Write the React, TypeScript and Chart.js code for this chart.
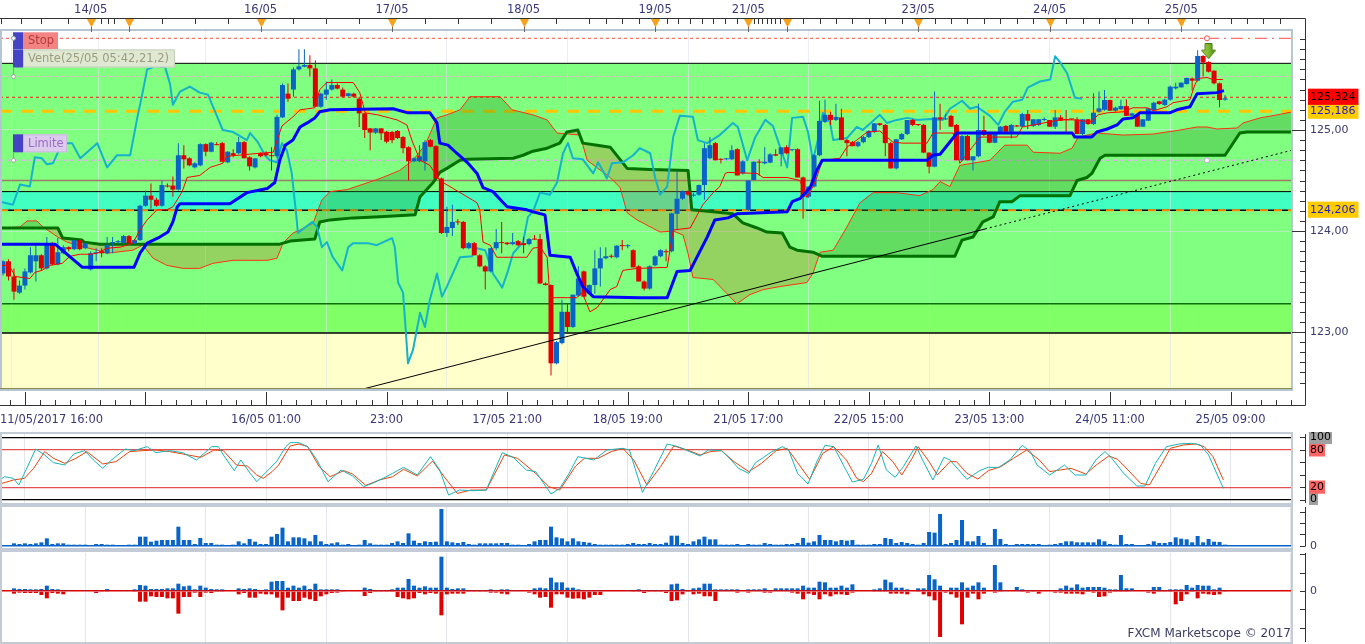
import React, { useEffect, useRef } from "react";
import { Chart, registerables } from "chart.js";

Chart.register(...registerables);

// ================= DATA =================
// x axis = hourly candle index, y axis = USD/JPY price
const X_MIN = -0.55;
const X_MAX = 235.22;
const PRICE_MIN = 122.426;
const PRICE_MAX = 125.99;

// [open, high, low, close]
const CANDLES_OHLC: number[][] = [
  [123.58, 123.71, 123.56, 123.70], [123.70, 123.72, 123.51, 123.55], [123.55, 123.63, 123.32, 123.40], [123.39, 123.51, 123.38, 123.46],
  [123.46, 123.63, 123.42, 123.60], [123.59, 123.84, 123.58, 123.76], [123.70, 123.86, 123.50, 123.76], [123.76, 123.77, 123.61, 123.63],
  [123.63, 123.94, 123.62, 123.86], [123.86, 123.89, 123.66, 123.67], [123.67, 123.93, 123.66, 123.79], [123.78, 123.86, 123.77, 123.84],
  [123.84, 123.85, 123.80, 123.82], [123.82, 123.91, 123.81, 123.91], [123.91, 123.92, 123.81, 123.82], [123.83, 123.88, 123.82, 123.88],
  [123.62, 123.80, 123.61, 123.78], [123.78, 123.83, 123.70, 123.79], [123.80, 123.83, 123.74, 123.78], [123.78, 123.94, 123.77, 123.86],
  [123.88, 123.94, 123.78, 123.89], [123.89, 123.91, 123.87, 123.895], [123.88, 123.96, 123.87, 123.95], [123.95, 123.96, 123.88, 123.88],
  [123.88, 123.92, 123.87, 123.91], [123.91, 124.26, 123.90, 124.25], [124.25, 124.40, 124.24, 124.35], [124.35, 124.47, 124.22, 124.31],
  [124.31, 124.33, 124.24, 124.25], [124.25, 124.50, 124.24, 124.455], [124.45, 124.47, 124.43, 124.44], [124.45, 124.54, 124.34, 124.41],
  [124.41, 124.87, 124.40, 124.75], [124.75, 124.85, 124.62, 124.71], [124.72, 124.73, 124.64, 124.65], [124.63, 124.68, 124.62, 124.67],
  [124.65, 124.87, 124.64, 124.86], [124.86, 124.87, 124.74, 124.785], [124.785, 124.88, 124.78, 124.875], [124.86, 124.88, 124.85, 124.85],
  [124.87, 124.88, 124.68, 124.686], [124.68, 124.79, 124.67, 124.785], [124.77, 124.81, 124.73, 124.75], [124.77, 124.93, 124.76, 124.88],
  [124.88, 124.89, 124.72, 124.72], [124.73, 124.74, 124.60, 124.64], [124.63, 124.72, 124.62, 124.72], [124.77, 124.78, 124.73, 124.74],
  [124.77, 124.79, 124.74, 124.75], [124.75, 124.83, 124.60, 124.74], [124.74, 125.15, 124.72, 125.13], [125.125, 125.46, 125.12, 125.445],
  [125.36, 125.46, 125.28, 125.31], [125.40, 125.62, 125.33, 125.60], [125.60, 125.80, 125.59, 125.63], [125.627, 125.80, 125.62, 125.643],
  [125.643, 125.74, 125.53, 125.61], [125.61, 125.69, 125.23, 125.23], [125.23, 125.37, 125.22, 125.36], [125.35, 125.48, 125.30, 125.40],
  [125.40, 125.50, 125.39, 125.445], [125.445, 125.46, 125.40, 125.41], [125.40, 125.42, 125.32, 125.33], [125.337, 125.37, 125.33, 125.363],
  [125.36, 125.37, 125.32, 125.33], [125.31, 125.33, 125.03, 125.165], [125.165, 125.17, 124.92, 125.00], [125.016, 125.02, 124.80, 124.974],
  [124.974, 125.02, 124.96, 125.016], [125.016, 125.02, 124.90, 124.967], [124.983, 124.99, 124.87, 124.884], [124.98, 124.99, 124.87, 124.90],
  [124.99, 125.00, 124.91, 124.92], [124.93, 124.94, 124.77, 124.82], [124.83, 124.84, 124.50, 124.69], [124.69, 124.73, 124.68, 124.72],
  [124.69, 124.85, 124.68, 124.74], [124.69, 124.90, 124.60, 124.88], [124.90, 124.91, 124.83, 124.835], [124.84, 124.85, 124.52, 124.52],
  [124.52, 124.53, 123.97, 123.98], [123.98, 124.24, 123.94, 124.04], [124.03, 124.26, 123.95, 124.09], [124.09, 124.12, 124.06, 124.085],
  [124.09, 124.10, 123.82, 123.83], [123.83, 123.89, 123.82, 123.88], [123.88, 123.89, 123.76, 123.76], [123.76, 123.77, 123.64, 123.65],
  [123.65, 123.66, 123.42, 123.60], [123.60, 123.83, 123.59, 123.83], [123.83, 124.02, 123.81, 123.89], [123.89, 124.09, 123.78, 123.88],
  [123.885, 123.89, 123.86, 123.87], [123.87, 123.98, 123.86, 123.89], [123.90, 123.91, 123.85, 123.86], [123.88, 123.94, 123.78, 123.86],
  [123.87, 123.93, 123.86, 123.92], [123.925, 123.96, 123.91, 123.915], [123.92, 123.97, 123.48, 123.48], [123.48, 123.49, 123.46, 123.465],
  [123.465, 123.47, 122.57, 122.69], [122.69, 122.91, 122.68, 122.90], [122.89, 123.32, 122.88, 123.20], [123.20, 123.28, 122.99, 123.05],
  [123.05, 123.37, 123.04, 123.37], [123.36, 123.65, 123.35, 123.53], [123.60, 123.61, 123.35, 123.35], [123.38, 123.47, 123.37, 123.465],
  [123.465, 123.81, 123.38, 123.63], [123.63, 123.84, 123.45, 123.73], [123.73, 123.84, 123.72, 123.75], [123.75, 123.77, 123.73, 123.745],
  [123.74, 123.86, 123.73, 123.855], [123.86, 123.91, 123.81, 123.85], [123.85, 123.87, 123.83, 123.85], [123.81, 123.82, 123.64, 123.64],
  [123.65, 123.66, 123.50, 123.50], [123.50, 123.51, 123.41, 123.43], [123.43, 123.66, 123.42, 123.65], [123.66, 123.76, 123.65, 123.75],
  [123.75, 123.82, 123.74, 123.81], [123.80, 123.82, 123.70, 123.79], [123.80, 124.18, 123.79, 124.175], [124.17, 124.60, 124.01, 124.32],
  [124.32, 124.40, 124.31, 124.39], [124.39, 124.40, 124.35, 124.36], [124.35, 124.38, 124.34, 124.36], [124.36, 124.46, 124.35, 124.455],
  [124.455, 124.87, 124.31, 124.82], [124.72, 124.93, 124.71, 124.85], [124.87, 124.88, 124.70, 124.70], [124.71, 124.72, 124.67, 124.705],
  [124.71, 124.72, 124.70, 124.71], [124.71, 124.85, 124.70, 124.80], [124.81, 124.82, 124.55, 124.55], [124.57, 124.70, 124.56, 124.69],
  [124.21, 124.50, 124.20, 124.50], [124.505, 124.69, 124.50, 124.686], [124.68, 124.71, 124.55, 124.677], [124.67, 124.83, 124.66, 124.686],
  [124.677, 124.77, 124.67, 124.759], [124.76, 124.81, 124.74, 124.746], [124.76, 124.83, 124.64, 124.828], [124.83, 124.85, 124.76, 124.77],
  [124.80, 124.81, 124.79, 124.81], [124.81, 124.82, 124.53, 124.53], [124.53, 124.54, 124.125, 124.34], [124.34, 124.44, 124.33, 124.44],
  [124.44, 124.76, 124.43, 124.75], [124.75, 125.29, 124.74, 125.09], [125.08, 125.30, 125.07, 125.15], [125.15, 125.18, 125.05, 125.10],
  [125.10, 125.26, 125.09, 125.13], [125.125, 125.21, 124.90, 124.90], [124.90, 124.91, 124.74, 124.87], [124.88, 124.89, 124.84, 124.84],
  [124.84, 124.89, 124.83, 124.88], [124.88, 124.94, 124.87, 124.93], [124.93, 125.00, 124.92, 124.99], [124.98, 125.07, 124.97, 125.066],
  [125.066, 125.07, 125.04, 125.05], [125.05, 125.06, 124.74, 124.87], [124.87, 124.88, 124.62, 124.62], [124.62, 124.91, 124.61, 124.908],
  [124.908, 124.97, 124.90, 124.96], [124.96, 125.10, 124.95, 125.099], [125.099, 125.11, 125.04, 125.05], [125.05, 125.06, 125.04, 125.049],
  [125.05, 125.06, 124.77, 124.776], [124.776, 124.78, 124.57, 124.637], [124.637, 125.38, 124.63, 125.125], [125.125, 125.26, 125.00, 125.105],
  [125.105, 125.16, 125.10, 125.106], [125.14, 125.15, 125.03, 125.033], [125.05, 125.06, 124.70, 124.70], [124.70, 124.95, 124.69, 124.94],
  [124.94, 124.95, 124.70, 124.70], [124.70, 124.74, 124.60, 124.74], [124.74, 125.26, 124.73, 125.00], [125.00, 125.14, 124.94, 124.95],
  [124.967, 124.97, 124.87, 124.874], [124.874, 124.97, 124.87, 124.967], [124.967, 125.04, 124.96, 125.033], [125.04, 125.05, 124.98, 124.983],
  [124.983, 125.06, 124.917, 125.05], [125.04, 125.05, 125.03, 125.035], [125.033, 125.17, 125.03, 125.158], [125.158, 125.198, 125.01, 125.092],
  [125.04, 125.11, 125.03, 125.106], [125.05, 125.11, 125.04, 125.106], [125.099, 125.125, 125.09, 125.10], [125.099, 125.10, 125.03, 125.033],
  [125.033, 125.198, 125.01, 125.125], [125.125, 125.148, 125.09, 125.092], [125.10, 125.198, 124.98, 125.099], [125.106, 125.11, 125.10, 125.105],
  [125.106, 125.125, 124.96, 124.96], [124.96, 125.11, 124.95, 125.106], [125.106, 125.11, 125.05, 125.059], [125.059, 125.363, 125.05, 125.171],
  [125.181, 125.38, 125.17, 125.214], [125.20, 125.396, 125.19, 125.297], [125.297, 125.30, 125.19, 125.191], [125.191, 125.23, 125.18, 125.221],
  [125.205, 125.30, 125.20, 125.237], [125.237, 125.303, 125.14, 125.14], [125.14, 125.17, 125.13, 125.165], [125.148, 125.15, 125.03, 125.033],
  [125.033, 125.11, 125.03, 125.106], [125.092, 125.22, 125.09, 125.214], [125.198, 125.28, 125.19, 125.27], [125.284, 125.29, 125.25, 125.257],
  [125.247, 125.31, 125.24, 125.30], [125.30, 125.44, 125.29, 125.429], [125.412, 125.469, 125.40, 125.429], [125.422, 125.47, 125.42, 125.469],
  [125.455, 125.52, 125.45, 125.515], [125.51, 125.52, 125.39, 125.488], [125.488, 125.79, 125.48, 125.733], [125.733, 125.74, 125.53, 125.667],
  [125.673, 125.68, 125.57, 125.577], [125.587, 125.59, 125.45, 125.462], [125.462, 125.47, 125.224, 125.297], [125.30, 125.346, 125.29, 125.313],
];

// Ichimoku lines: [candle index, price]
const TENKAN = [
  [-0.5, 123.66], [1.2, 123.66], [2.2, 123.55], [4.9, 123.53], [5.8, 123.59], [7.1, 123.61], [8.6, 123.66], [10.8, 123.68], [12.2, 123.75],
  [14.1, 123.77], [15.9, 123.77], [17.2, 123.78], [19.0, 123.83], [21.4, 123.84], [23.7, 123.88], [25.0, 124.01], [26.3, 124.11], [28.1, 124.21],
  [29.9, 124.21], [31.0, 124.24], [32.7, 124.39], [33.6, 124.53], [35.9, 124.55], [37.8, 124.63], [40.1, 124.67], [40.9, 124.74], [46.9, 124.77],
  [49.3, 124.78], [50.9, 125.04], [52.9, 125.13], [54.2, 125.20], [56.9, 125.22], [57.8, 125.40], [59.1, 125.47], [63.9, 125.47], [65.1, 125.37],
  [66.1, 125.17], [68.4, 125.15], [71.9, 125.10], [73.7, 125.05], [74.6, 124.90], [76.1, 124.70], [77.9, 124.65], [79.7, 124.50], [83.4, 124.38],
  [86.5, 124.28], [87.0, 124.21], [87.6, 123.89], [88.9, 123.86], [90.1, 123.74], [95.6, 123.74], [96.7, 123.83], [98.0, 123.84], [99.3, 123.74],
  [99.8, 123.34], [104.7, 123.34], [105.7, 123.39], [107.1, 123.20], [108.4, 123.24], [110.8, 123.42], [112.0, 123.45], [113.1, 123.61],
  [115.7, 123.63], [121.2, 123.64], [122.3, 124.01], [125.4, 124.03], [127.7, 124.26], [129.6, 124.38], [130.8, 124.44], [131.8, 124.57],
  [132.3, 124.58], [137.6, 124.57], [138.7, 124.53], [143.1, 124.53], [145.4, 124.50], [146.7, 124.33], [147.8, 124.44], [148.5, 124.53],
  [149.5, 124.70], [152.7, 124.72], [154.0, 124.83], [155.8, 124.90], [157.7, 124.98], [160.0, 124.99], [162.4, 124.88], [164.2, 124.87],
  [168.6, 124.87], [169.7, 124.97], [173.4, 124.97], [174.6, 124.67], [178.3, 124.93], [185.0, 124.93], [186.0, 125.03], [192.9, 125.10],
  [195.3, 125.10], [198.7, 125.08], [199.8, 125.15], [201.5, 125.17], [204.4, 125.18], [206.2, 125.22], [208.8, 125.22], [209.9, 125.19],
  [212.4, 125.23], [213.5, 125.27], [216.6, 125.30], [217.5, 125.45], [218.1, 125.51], [219.7, 125.52], [220.8, 125.50], [222.6, 125.50],
];
const KIJUN = [
  [-0.5, 123.87], [9.5, 123.87], [14.5, 123.64], [23.9, 123.64], [25.0, 123.78], [26.3, 123.88], [28.6, 123.94], [30.1, 123.99], [31.0, 124.09],
  [31.8, 124.24], [32.3, 124.27], [41.4, 124.27], [44.5, 124.38], [48.2, 124.42], [49.6, 124.48], [50.5, 124.70], [51.5, 124.85], [52.9, 124.90],
  [54.2, 125.03], [55.5, 125.07], [56.9, 125.12], [57.8, 125.18], [59.7, 125.20], [71.2, 125.21], [73.9, 125.17], [77.9, 125.17], [79.2, 125.07],
  [79.7, 124.87], [81.2, 124.85], [82.8, 124.77], [84.7, 124.68], [86.5, 124.57], [87.6, 124.43], [89.4, 124.39], [91.1, 124.29], [92.0, 124.24],
  [95.6, 124.21], [96.7, 124.19], [98.9, 124.16], [99.8, 123.76], [103.5, 123.74], [104.7, 123.58], [105.8, 123.45], [107.7, 123.35],
  [116.2, 123.34], [121.2, 123.34], [123.0, 123.60], [125.4, 123.61], [128.5, 123.94], [129.9, 124.11], [132.3, 124.13], [133.9, 124.17],
  [143.1, 124.19], [144.0, 124.29], [145.4, 124.32], [147.3, 124.43], [148.5, 124.60], [149.5, 124.70], [168.6, 124.70], [169.7, 124.75],
  [171.0, 124.76], [174.1, 124.97], [195.1, 124.97], [195.6, 124.93], [198.7, 124.93], [199.6, 124.98], [201.5, 125.01], [203.3, 125.05],
  [204.4, 125.11], [206.2, 125.12], [207.5, 125.17], [212.9, 125.17], [214.2, 125.20], [216.6, 125.23], [217.9, 125.36], [221.5, 125.37],
  [222.8, 125.39],
];
const SENKOU_A = [
  [-0.5, 124.03], [3.1, 124.04], [4.4, 124.10], [6.2, 124.10], [7.3, 124.04], [10.0, 123.94], [11.7, 123.89], [14.1, 123.85], [17.2, 123.81],
  [19.0, 123.78], [23.7, 123.81], [25.5, 123.86], [27.4, 123.73], [29.9, 123.66], [32.8, 123.63], [35.9, 123.63], [38.3, 123.68], [42.0, 123.71],
  [48.2, 123.71], [50.0, 123.73], [51.1, 123.88], [52.9, 123.98], [54.2, 124.01], [56.6, 124.08], [58.2, 124.31], [59.7, 124.39], [62.8, 124.41],
  [68.8, 124.52], [72.4, 124.60], [74.8, 124.70], [77.0, 124.85], [79.2, 125.12], [81.0, 125.15], [83.4, 125.20], [85.2, 125.33], [90.7, 125.33],
  [92.9, 125.20], [96.7, 125.15], [99.3, 125.10], [101.1, 124.97], [105.3, 124.95], [106.6, 124.70], [110.8, 124.53], [112.6, 124.43],
  [113.9, 124.18], [115.7, 124.11], [119.9, 123.99], [122.3, 124.00], [124.1, 123.96], [125.0, 123.78], [125.9, 123.54], [129.6, 123.52],
  [131.4, 123.42], [133.9, 123.28], [136.3, 123.37], [138.7, 123.42], [141.8, 123.45], [146.7, 123.49], [147.8, 123.58], [149.1, 123.79],
  [151.5, 123.81], [154.0, 124.04], [156.4, 124.28], [158.8, 124.38], [163.1, 124.38], [167.3, 124.35], [169.7, 124.41], [171.0, 124.49],
  [172.8, 124.44], [174.6, 124.65], [180.1, 124.70], [182.8, 124.85], [186.9, 124.85], [188.0, 124.78], [192.9, 124.77], [195.1, 124.82],
  [196.2, 124.93], [199.6, 124.97], [204.4, 124.95], [209.9, 124.96], [214.8, 125.00], [217.9, 125.03], [219.7, 125.03], [221.5, 125.01],
  [225.2, 125.02], [226.3, 125.07], [229.4, 125.12], [232.5, 125.15], [235.3, 125.18],
];
const SENKOU_B = [
  [-0.5, 124.03], [10.0, 124.03], [10.9, 123.93], [14.4, 123.91], [14.8, 123.89], [17.7, 123.87], [50.5, 123.87], [52.4, 123.90], [56.9, 123.92],
  [57.8, 124.09], [59.7, 124.11], [63.9, 124.13], [68.8, 124.14], [75.2, 124.16], [76.1, 124.34], [78.5, 124.48], [79.7, 124.58], [81.0, 124.62],
  [83.4, 124.70], [84.7, 124.71], [93.1, 124.72], [94.9, 124.75], [96.7, 124.79], [99.3, 124.82], [101.6, 124.87], [102.9, 124.98], [104.9, 125.00],
  [105.8, 124.87], [108.4, 124.85], [110.8, 124.83], [113.9, 124.62], [118.1, 124.61], [125.0, 124.60], [125.7, 124.21], [129.6, 124.19],
  [133.2, 124.17], [135.0, 124.08], [137.6, 124.03], [139.4, 123.99], [142.2, 123.98], [143.6, 123.84], [144.9, 123.81], [147.8, 123.79],
  [149.5, 123.75], [173.7, 123.75], [175.0, 123.91], [177.0, 123.94], [178.8, 124.09], [180.7, 124.14], [181.9, 124.29], [184.1, 124.29],
  [185.6, 124.35], [194.7, 124.35], [196.0, 124.50], [197.8, 124.53], [198.7, 124.57], [200.2, 124.72], [201.1, 124.75], [223.0, 124.75],
  [225.7, 124.97], [227.0, 124.98], [235.3, 124.98],
];
const CHIKOU = [
  [-0.5, 124.29], [1.8, 124.26], [3.1, 124.46], [4.9, 124.44], [5.8, 124.73], [7.1, 124.72], [8.0, 124.66], [9.1, 124.67], [10.8, 124.87],
  [12.6, 124.87], [14.1, 124.72], [17.2, 124.87], [19.0, 124.63], [20.8, 124.75], [23.2, 124.75], [24.5, 125.12], [25.4, 125.35], [26.3, 125.60],
  [27.7, 125.63], [29.6, 125.62], [30.5, 125.45], [31.0, 125.25], [32.3, 125.38], [34.1, 125.43], [35.9, 125.37], [37.4, 125.35], [39.1, 125.13],
  [40.1, 125.00], [42.0, 124.98], [44.5, 124.90], [45.1, 124.97], [46.5, 124.88], [47.8, 124.75], [48.7, 124.70], [50.0, 124.68], [50.9, 124.87],
  [51.8, 124.80], [52.7, 124.57], [53.6, 124.11], [53.8, 123.98], [56.4, 124.09], [57.3, 124.04], [58.2, 123.84], [59.1, 123.89], [60.2, 123.74],
  [61.9, 123.61], [63.0, 123.84], [63.9, 123.88], [66.6, 123.88], [68.2, 123.86], [71.0, 123.93], [71.5, 123.84], [72.1, 123.49], [73.0, 123.39],
  [73.4, 123.09], [73.9, 122.69], [74.8, 122.82], [76.1, 123.19], [77.0, 123.05], [77.9, 123.32], [79.2, 123.58], [80.1, 123.35], [81.0, 123.45],
  [83.4, 123.74], [85.6, 123.75], [86.5, 123.83], [88.0, 123.81], [89.4, 123.58], [91.1, 123.44], [92.0, 123.58], [93.1, 123.78], [94.9, 123.89],
  [95.8, 124.14], [96.7, 124.19], [98.0, 124.38], [99.8, 124.36], [101.1, 124.48], [102.2, 124.77], [103.1, 124.87], [104.0, 124.72],
  [105.8, 124.71], [107.7, 124.57], [108.6, 124.68], [110.2, 124.52], [111.1, 124.67], [113.1, 124.68], [115.0, 124.75], [116.2, 124.82],
  [118.1, 124.77], [119.0, 124.53], [119.9, 124.36], [121.2, 124.44], [122.3, 124.93], [123.5, 125.14], [125.9, 125.13], [126.8, 124.90],
  [128.5, 124.87], [130.8, 124.95], [133.2, 125.07], [134.1, 125.03], [135.8, 124.70], [137.2, 124.92], [139.1, 125.10], [140.5, 125.04],
  [141.8, 124.83], [143.1, 124.63], [144.0, 125.12], [146.0, 125.13], [146.9, 124.98], [147.8, 124.70], [148.7, 124.90], [149.6, 125.17],
  [150.9, 125.08], [151.5, 124.90], [154.0, 124.92], [155.8, 125.03], [156.9, 125.00], [160.0, 125.15], [161.3, 125.07], [163.1, 125.10],
  [165.0, 125.12], [166.8, 125.10], [169.2, 125.11], [171.5, 125.10], [172.8, 125.21], [175.0, 125.29], [176.5, 125.21], [177.7, 125.23],
  [180.1, 125.14], [181.6, 125.05], [182.8, 125.18], [184.3, 125.28], [186.0, 125.30], [187.0, 125.42], [189.2, 125.48], [191.1, 125.50],
  [192.0, 125.73], [192.9, 125.67], [194.2, 125.56], [195.6, 125.32], [196.9, 125.31],
];
const TREND_SOLID = [[65.3, 122.43], [179.2, 124.02]];
const TREND_DOTTED = [[179.2, 124.02], [235.2, 124.8]];

// horizontal zones and order levels (prices)
const ZONE_EDGES = [125.66, 124.39, 124.206, 123.28, 122.99];
const STOP_PRICE = 125.908;
const VENTE_PRICE = 125.53;
const RED_LEVEL = 125.324;
const ORANGE_LEVEL = 125.186;
const LIMIT_PRICE = 124.7;
const BROWN_LEVEL = 124.5;
const ORDER_IDX = 219.7;
const SELL_SIGNAL = [[220, 125.78]];
const PRICE_TAGS = [125.324, 125.186, 124.206];
const PRICE_LABELS = [123, 124, 125];

// Stochastic %K / %D: [candle index, value]
const STOCH_K = [
  [-0.55, 31.5], [0.26, 36.8], [1.9, 34.1], [2.9, 23.4], [3.9, 42.2], [5.96, 81.5], [7.6, 71.8], [9.2, 59.4], [11.3, 55.6], [12.9, 73.4],
  [14.9, 78.8], [16.5, 63.7], [18.2, 50.3], [19.8, 63.7], [22.3, 81.5], [23.9, 78.8], [26.3, 85.2], [27.9, 75.5], [30.4, 78.8], [32.8, 75.5],
  [35.3, 63.7], [38.1, 85.2], [39.3, 85.2], [40.2, 71.8], [42.2, 46.5], [43.4, 63.7], [45.1, 42.2], [46.3, 28.8], [47.5, 39.5], [48.7, 50.3],
  [49.9, 61.0], [51.6, 85.2], [52.4, 91.7], [54.0, 91.7], [55.6, 85.2], [57.3, 63.7], [59.3, 28.8], [61.7, 47.6], [63.8, 37.9], [65.8, 20.7],
  [67.4, 26.1], [69.1, 33.1], [71.1, 42.2], [73.1, 51.9], [75.6, 39.5], [78.0, 69.1], [79.7, 47.6], [81.3, 7.3], [83.3, 15.3], [85.8, 14.2],
  [88.2, 15.3], [91.1, 75.5], [93.1, 68.0], [95.5, 47.6], [97.2, 44.9], [100.0, 8.9], [101.6, 18.0], [103.3, 42.2], [104.9, 69.1], [107.8, 63.7],
  [110.2, 79.8], [113.1, 82.5], [114.3, 79.8], [116.7, 11.6], [118.7, 44.9], [121.2, 89.5], [123.2, 85.2], [125.3, 77.2], [127.2, 70.2],
  [128.7, 79.8], [131.1, 78.8], [132.6, 66.4], [134.2, 50.3], [136.1, 42.2], [137.3, 59.4], [138.8, 68.0], [140.3, 77.2], [142.3, 85.2],
  [143.4, 78.8], [145.0, 42.2], [146.9, 25.0], [148.5, 61.0], [150.0, 87.4], [151.6, 85.2], [153.5, 53.0], [155.0, 28.2], [157.0, 32.5],
  [158.5, 58.3], [159.7, 87.9], [161.2, 47.6], [162.8, 35.8], [164.3, 53.0], [166.6, 86.3], [167.8, 63.7], [169.7, 31.5], [171.7, 68.0],
  [172.8, 63.7], [174.4, 47.6], [175.9, 32.5], [178.2, 46.5], [179.8, 51.9], [181.7, 51.9], [183.7, 63.7], [186.0, 87.4], [187.5, 77.2],
  [188.7, 55.6], [191.0, 39.5], [192.2, 46.5], [193.7, 55.6], [195.6, 39.5], [197.6, 39.5], [199.5, 64.8], [201.1, 77.2], [202.2, 68.0],
  [204.5, 42.2], [206.9, 21.8], [208.4, 21.8], [210.3, 58.3], [212.3, 85.2], [214.6, 89.5], [216.9, 90.6], [218.5, 87.9], [220.0, 71.8],
  [221.6, 39.5], [222.7, 18.0],
];
const STOCH_D = [
  [-0.55, 25.0], [1.9, 31.5], [3.9, 34.1], [5.6, 50.3], [7.6, 77.2], [9.2, 66.4], [11.3, 58.3], [13.3, 66.4], [15.3, 77.2], [18.2, 57.3],
  [20.6, 61.0], [23.1, 77.2], [25.5, 78.8], [27.9, 79.8], [30.4, 77.2], [32.8, 73.4], [36.1, 68.0], [38.5, 79.8], [40.2, 78.8], [42.6, 55.6],
  [44.6, 54.0], [46.3, 39.5], [47.5, 34.1], [49.1, 44.9], [50.3, 55.6], [52.4, 86.3], [54.0, 89.5], [55.6, 85.2], [57.7, 53.0], [59.7, 36.8],
  [62.2, 46.5], [63.8, 41.1], [66.2, 22.8], [68.7, 31.5], [71.1, 36.8], [73.1, 48.7], [75.6, 37.9], [78.4, 62.1], [80.5, 36.8], [82.9, 9.9],
  [85.4, 15.3], [88.2, 15.3], [91.5, 71.8], [93.9, 66.4], [97.2, 42.2], [99.6, 20.7], [101.6, 15.3], [104.5, 54.0], [106.1, 66.4], [108.6, 66.4],
  [111.0, 77.2], [113.1, 82.5], [115.1, 63.7], [117.5, 23.4], [120.0, 53.0], [122.4, 86.3], [124.9, 79.8], [127.2, 71.8], [129.1, 77.2],
  [131.1, 78.8], [133.4, 61.0], [136.1, 44.9], [138.4, 58.3], [141.1, 78.8], [143.1, 82.5], [145.0, 59.4], [147.2, 32.5], [149.6, 74.5],
  [151.6, 85.2], [153.9, 63.7], [155.8, 34.1], [157.0, 28.8], [158.5, 42.2], [160.5, 77.2], [162.4, 61.0], [164.0, 39.5], [165.9, 66.4],
  [167.0, 85.2], [169.0, 61.0], [170.5, 39.5], [172.8, 61.0], [174.0, 61.0], [175.9, 42.2], [177.9, 33.1], [179.8, 46.5], [182.1, 53.0],
  [184.4, 66.4], [186.8, 79.8], [189.1, 63.7], [191.0, 44.9], [192.9, 47.6], [194.9, 50.3], [197.6, 41.1], [199.5, 55.6], [201.8, 70.2],
  [203.4, 64.8], [205.3, 47.6], [207.6, 26.1], [209.2, 23.4], [211.5, 58.3], [213.0, 82.5], [215.4, 87.9], [217.7, 89.5], [219.2, 85.2],
  [220.8, 69.1], [222.7, 31.5],
];
const STOCH_TICKS = [0, 20, 40, 60, 80, 100];
const STOCH_LABELS = [0, 20, 80, 100];

// volume per candle
const VOLUME = [
  3, 3, 8, 6, 8, 6, 8, 11, 23, 6, 8, 8, 4, 4, 4, 4, 1, 6, 6, 4, 4, 1, 1, 4, 4, 28, 28, 13, 16, 18,
  18, 18, 58, 18, 18, 6, 24, 9, 9, 4, 4, 1, 4, 14, 8, 21, 13, 6, 6, 28, 36, 55, 14, 26, 26, 23, 14, 33, 14, 6,
  8, 11, 4, 6, 1, 4, 18, 8, 4, 4, 4, 9, 14, 9, 38, 16, 9, 14, 12, 13, 111, 14, 11, 9, 12, 6, 4, 8, 8, 8,
  8, 9, 9, 4, 4, 1, 6, 14, 18, 18, 58, 26, 23, 14, 23, 14, 12, 10, 6, 4, 4, 4, 4, 4, 6, 9, 6, 6, 9, 6,
  6, 10, 31, 31, 9, 6, 14, 20, 28, 20, 20, 4, 4, 4, 6, 1, 6, 4, 4, 9, 6, 4, 4, 6, 6, 9, 24, 10, 14, 33,
  18, 18, 14, 18, 16, 18, 4, 4, 4, 6, 6, 24, 21, 9, 12, 9, 6, 4, 9, 42, 40, 96, 6, 9, 18, 78, 14, 14, 30, 9,
  1, 51, 21, 6, 1, 6, 6, 6, 6, 6, 1, 4, 6, 9, 14, 14, 11, 11, 11, 11, 20, 14, 6, 4, 33, 6, 6, 1, 1, 6,
  14, 9, 9, 12, 26, 22, 20, 11, 30, 11, 21, 13, 12, 4,
];
const VOLUME_TICKS = [0, 34.5, 69, 103.5];

// buy / sell flow per candle
const FLOW_UP = [
  0, 0, 8, 6, 6, 5, 5, 6, 16, 6, 5, 3, 3, 0, 0, 3, 0, 3, 0, 6, 0, 0, 3, 0, 5, 18, 16, 6, 6, 6,
  8, 8, 22, 14, 16, 5, 16, 10, 6, 5, 5, 0, 0, 8, 6, 8, 6, 3, 5, 28, 30, 30, 10, 16, 10, 16, 6, 22, 5, 5,
  5, 5, 3, 0, 0, 0, 10, 6, 3, 3, 3, 5, 10, 10, 36, 16, 10, 14, 10, 10, 103, 10, 6, 8, 8, 3, 3, 3, 3, 5,
  3, 5, 5, 3, 3, 0, 3, 8, 10, 8, 40, 26, 26, 10, 10, 5, 3, 3, 3, 3, 0, 0, 0, 0, 3, 3, 5, 3, 3, 3,
  3, 3, 20, 22, 6, 3, 8, 10, 22, 22, 5, 5, 5, 5, 5, 0, 5, 5, 5, 8, 3, 8, 8, 8, 8, 8, 16, 10, 10, 28,
  26, 10, 10, 16, 10, 20, 0, 0, 0, 5, 8, 34, 26, 10, 10, 5, 0, 8, 8, 48, 35, 16, 3, 10, 10, 26, 10, 16, 26, 10,
  0, 78, 26, 3, 0, 12, 5, 3, 3, 0, 0, 0, 3, 8, 16, 10, 20, 10, 12, 12, 12, 10, 5, 5, 48, 8, 8, 0, 0, 3,
  12, 12, 3, 5, 5, 5, 18, 10, 18, 16, 16, 5, 10, 3,
];
const FLOW_DOWN = [
  0, 0, 8, 5, 6, 6, 6, 12, 22, 6, 8, 10, 0, 0, 0, 0, 0, 6, 3, 3, 0, 0, 0, 0, 3, 32, 32, 16, 18, 18,
  22, 22, 68, 18, 18, 5, 18, 5, 6, 3, 3, 0, 0, 10, 6, 20, 20, 8, 10, 10, 20, 58, 20, 30, 30, 20, 25, 30, 16, 10,
  6, 5, 3, 0, 0, 0, 15, 6, 3, 3, 3, 3, 18, 22, 25, 22, 6, 10, 6, 8, 73, 10, 8, 8, 8, 3, 3, 3, 3, 5,
  5, 8, 10, 0, 0, 0, 5, 10, 20, 18, 50, 10, 10, 20, 23, 22, 25, 20, 12, 12, 0, 0, 0, 0, 0, 3, 3, 6, 3, 3,
  3, 6, 30, 28, 10, 3, 10, 8, 16, 16, 30, 0, 0, 0, 5, 0, 5, 0, 0, 5, 5, 0, 0, 0, 5, 8, 25, 8, 12, 25,
  10, 16, 10, 10, 12, 5, 0, 0, 0, 3, 3, 3, 8, 8, 8, 10, 0, 3, 10, 16, 28, 138, 5, 10, 20, 100, 20, 8, 25, 8,
  0, 5, 3, 0, 0, 0, 3, 5, 3, 8, 0, 0, 5, 5, 8, 8, 8, 10, 3, 5, 18, 16, 5, 3, 3, 3, 0, 0, 0, 5,
  8, 3, 3, 3, 40, 30, 10, 3, 22, 8, 10, 12, 10, 3,
];
const FLOW_TICKS = [-110, -55, 0, 55, 110];

// time axes (candle index of each tick)
const MAJOR_X = [4, 26, 48, 70, 92, 114, 136, 158, 180, 202, 224];
const BOTTOM_TICKS = [4, 8.85, 26, 48, 70, 92, 114, 136, 158, 180, 202, 224];
const BOTTOM_LABELS = ["", "11/05/2017 16:00", "", "16/05 01:00", "23:00", "17/05 21:00", "18/05 19:00", "21/05 17:00", "22/05 15:00", "23/05 13:00", "24/05 11:00", "25/05 09:00"];
const TOP_TICKS = [16, 47, 71, 95, 119, 136, 167, 191, 215];
const TOP_LABELS = ["14/05", "16/05", "17/05", "18/05", "19/05", "21/05", "23/05", "24/05", "25/05"];
const EVENT_IDX = [16, 23, 47, 71, 95, 119, 136, 143, 167, 191, 215];
const TOP_RULER = [
  -0.4, 3.3, 6.9, 11.9, 16, 17.9, 19.2, 20.3, 23, 29, 35, 41, 47, 53, 59, 65, 71, 77, 83, 89, 95, 101, 107, 110, 113, 116, 119,
  121.1, 123.2, 125.4, 127.5, 129.6, 131.8, 133.9, 136, 137.1, 137.8, 138.5, 139.4, 140.1, 140.9, 141.8, 143, 146, 149, 152, 155,
  158, 161, 164, 167, 170, 173, 176, 179, 182, 185, 188, 191, 194, 197, 200, 203, 206, 209, 212, 215, 218, 221, 224, 227, 230, 233,
];
const MINOR_START = 1.25;
const MINOR_STEP = 2.75;

// ================= STYLE =================
const FONT = "DejaVu Sans";
const AXIS_TEXT = "#38387a";
const UP = "#0a64c8";
const DOWN = "#e00000";
const TRANSPARENT = "rgba(0,0,0,0)";
const GRID_V = "rgba(222,228,236,0.6)";
const PLOT_RIGHT = 1292;
const RULER_X = 1305.5;

const pts = (a: number[][]) => a.map(([x, y]) => ({ x, y }));
const near = (a: number, b: number) => Math.abs(a - b) < 1e-6;

function hline(p: number, color: string, width: number, dash: number[], order: number, from = X_MIN, to = X_MAX) {
  return {
    type: "line",
    data: [{ x: from, y: p }, { x: to, y: p }],
    borderColor: color,
    borderWidth: width,
    borderDash: dash,
    pointRadius: 0,
    fill: false,
    order,
  };
}

function makeArrow() {
  const c = document.createElement("canvas");
  c.width = 15;
  c.height = 16;
  const g = c.getContext("2d")!;
  const grad = g.createLinearGradient(0, 0, 15, 0);
  grad.addColorStop(0, "#b4e050");
  grad.addColorStop(1, "#4e8c12");
  g.fillStyle = grad;
  g.beginPath();
  g.moveTo(4, 0.5);
  g.lineTo(11, 0.5);
  g.lineTo(11, 7);
  g.lineTo(14.5, 7);
  g.lineTo(7.5, 15.5);
  g.lineTo(0.5, 7);
  g.lineTo(4, 7);
  g.closePath();
  g.fill();
  g.strokeStyle = "#4a7a14";
  g.lineWidth = 1;
  g.stroke();
  return c;
}

function xScaleHidden() {
  return {
    type: "linear",
    min: X_MIN,
    max: X_MAX,
    bounds: "data",
    offset: false,
    afterBuildTicks: (s: any) => {
      s.ticks = MAJOR_X.map((v) => ({ value: v }));
    },
    afterFit: (s: any) => {
      s.height = 0;
      s.paddingLeft = 0;
      s.paddingRight = 0;
    },
    ticks: { display: false },
    grid: { drawTicks: false, color: "#e3e7ec" },
    border: { display: false },
  };
}

const fixY = (s: any) => {
  s.width = 73;
  s.paddingTop = 0;
  s.paddingBottom = 0;
};

function tag(ctx: any, lineY: number, top: number, h: number, w: number, text: string, bg: string, fg: string, border: string) {
  ctx.fillStyle = "#4444c4";
  ctx.fillRect(13, top, 10, h);
  ctx.fillStyle = bg;
  ctx.fillRect(23, top, w, h);
  if (border) {
    ctx.strokeStyle = border;
    ctx.lineWidth = 1;
    ctx.strokeRect(23.5, top + 0.5, w - 1, h - 1);
  }
  ctx.fillStyle = fg;
  ctx.font = `11.5px "${FONT}"`;
  ctx.textAlign = "left";
  ctx.textBaseline = "middle";
  ctx.fillText(text, 28, top + h / 2 + 0.5);
  if (lineY > top + h) {
    ctx.strokeStyle = "#9a9a9a";
    ctx.beginPath();
    ctx.moveTo(13.5, top + h);
    ctx.lineTo(13.5, lineY);
    ctx.stroke();
  }
  ctx.fillStyle = "#fff";
  ctx.strokeStyle = "#a0a0a0";
  ctx.beginPath();
  ctx.arc(13.5, lineY, 2, 0, Math.PI * 2);
  ctx.fill();
  ctx.stroke();
}

const mainDecor = {
  id: "mainDecor",
  beforeDraw(chart: any) {
    const { ctx, chartArea: a, scales } = chart;
    const y = scales.y;
    ctx.save();
    ctx.fillStyle = "#fff";
    ctx.fillRect(0, 0, chart.width, chart.height);
    const zones: [number, number, string][] = [
      [ZONE_EDGES[0], ZONE_EDGES[1], "#80ff80"],
      [ZONE_EDGES[1], ZONE_EDGES[2], "#40ffc0"],
      [ZONE_EDGES[2], ZONE_EDGES[3], "#80ff80"],
      [ZONE_EDGES[3], ZONE_EDGES[4], "#80ff66"],
      [ZONE_EDGES[4], PRICE_MIN, "#ffffcc"],
    ];
    zones.forEach(([hi, lo, col]) => {
      const t = y.getPixelForValue(hi);
      const b = y.getPixelForValue(lo);
      ctx.fillStyle = col;
      ctx.fillRect(a.left, t, a.right - a.left, b - t);
    });
    ctx.restore();
  },
  afterDraw(chart: any) {
    const { ctx, chartArea: a, scales } = chart;
    const x = scales.x;
    const y = scales.y;
    const px = (v: number) => Math.round(x.getPixelForValue(v)) + 0.5;
    ctx.save();
    // plot frame
    ctx.strokeStyle = "#b7c4d2";
    ctx.lineWidth = 2;
    ctx.strokeRect(a.left + 1, a.top, a.right - a.left - 1, a.bottom - a.top);
    ctx.strokeStyle = "#8a8a50";
    ctx.lineWidth = 1;
    ctx.beginPath();
    ctx.moveTo(a.left, a.bottom - 1.5);
    ctx.lineTo(a.right, a.bottom - 1.5);
    ctx.stroke();

    // top time ruler
    ctx.strokeStyle = "#333";
    ctx.lineWidth = 1;
    ctx.beginPath();
    ctx.moveTo(0, 18.5);
    ctx.lineTo(RULER_X, 18.5);
    TOP_RULER.forEach((v) => {
      ctx.moveTo(px(v), 18.5);
      ctx.lineTo(px(v), 24);
    });
    TOP_TICKS.forEach((v) => {
      ctx.moveTo(px(v), 18.5);
      ctx.lineTo(px(v), 28);
    });
    ctx.stroke();
    EVENT_IDX.forEach((v) => {
      const p = px(v);
      ctx.strokeStyle = "#666";
      ctx.beginPath();
      ctx.moveTo(p, 19);
      ctx.lineTo(p, 32);
      ctx.stroke();
      ctx.fillStyle = "#f6a21e";
      ctx.beginPath();
      ctx.moveTo(p - 4.5, 19);
      ctx.lineTo(p + 4.5, 19);
      ctx.lineTo(p, 27.5);
      ctx.closePath();
      ctx.fill();
    });

    // bottom time ruler
    ctx.strokeStyle = "#333";
    ctx.beginPath();
    ctx.moveTo(0, 405.5);
    ctx.lineTo(RULER_X, 405.5);
    for (let v = MINOR_START; v <= X_MAX; v += MINOR_STEP) {
      ctx.moveTo(px(v), 400);
      ctx.lineTo(px(v), 405.5);
    }
    MAJOR_X.forEach((v) => {
      ctx.moveTo(px(v), 392);
      ctx.lineTo(px(v), 405.5);
    });
    // right price ruler
    ctx.moveTo(RULER_X, 18.5);
    ctx.lineTo(RULER_X, 405.5);
    for (let k = Math.ceil(PRICE_MIN * 10); k <= Math.floor(PRICE_MAX * 10); k++) {
      const v = k / 10;
      const py = Math.round(y.getPixelForValue(v)) + 0.5;
      const major = k % 10 === 0;
      ctx.moveTo(major ? PLOT_RIGHT : 1300, py);
      ctx.lineTo(RULER_X, py);
    }
    ctx.stroke();

    // order tags
    const sy = y.getPixelForValue(STOP_PRICE);
    const vy = y.getPixelForValue(VENTE_PRICE);
    const ly = y.getPixelForValue(LIMIT_PRICE);
    tag(ctx, sy, sy - 6, 17, 35, "Stop", "#f28484", "#b83a3a", "");
    tag(ctx, vy, vy - 27, 18, 152, "Vente(25/05 05:42,21,2)", "#dfe8d2", "#9c9c7c", "#c6cfbb");
    tag(ctx, ly, ly - 26, 18, 44, "Limite", "#dccbec", "#9a6cc2", "#cdb8e0");
    ctx.restore();
  },
};

function buildMain(): any {
  const datasets: any[] = [];
  datasets.push(hline(ZONE_EDGES[0], "#000", 1, [], 30));
  datasets.push(hline(ZONE_EDGES[1], "#000", 1, [], 30));
  datasets.push(hline(ZONE_EDGES[2], "#000", 1.5, [], 30));
  datasets.push(hline(ZONE_EDGES[3], "#0a6e0a", 1.5, [], 30));
  datasets.push(hline(ZONE_EDGES[4], "#000", 1.5, [], 30));
  datasets.push(hline(STOP_PRICE, "#ff4a4a", 1, [3, 3], 30, X_MIN, ORDER_IDX));
  datasets.push(hline(STOP_PRICE, "#ff4a4a", 1, [12, 5, 2, 5], 30, ORDER_IDX, X_MAX));
  datasets.push(hline(VENTE_PRICE, "#e4b6ca", 1, [3, 3], 30));
  datasets.push(hline(RED_LEVEL, "#ff1a1a", 1, [3, 3], 30));
  datasets.push(hline(ORANGE_LEVEL, "#ffc400", 3, [12, 9], 30));
  datasets.push(hline(LIMIT_PRICE, "#d8b4e8", 1.5, [4, 3], 30));
  datasets.push(hline(BROWN_LEVEL, "#9c7c66", 1.5, [], 30));
  datasets.push(hline(ZONE_EDGES[2], "#ff8c00", 2, [8, 6], 29));

  // Ichimoku cloud
  const idxB = datasets.length;
  datasets.push({ type: "line", data: pts(SENKOU_B), borderColor: "#007000", borderWidth: 3, pointRadius: 0, order: 14, fill: false, borderJoinStyle: "round" });
  datasets.push({
    type: "line",
    data: pts(SENKOU_A),
    borderColor: "#ff3010",
    borderWidth: 1,
    pointRadius: 0,
    order: 15,
    fill: { target: idxB, above: "rgba(35,150,35,0.32)", below: "rgba(190,118,35,0.32)" },
  });
  datasets.push({ type: "line", data: pts(CHIKOU), borderColor: "#14b2cc", borderWidth: 2, pointRadius: 0, order: 12, fill: false, borderJoinStyle: "round" });

  const candleColor = (ctx: any) => {
    const c = CANDLES_OHLC[ctx.dataIndex];
    return c && c[3] >= c[0] ? UP : DOWN;
  };
  datasets.push({
    type: "bar",
    data: CANDLES_OHLC.map((c, i) => ({ x: i, y: [c[2], c[1]] })),
    backgroundColor: candleColor,
    barThickness: 1,
    grouped: false,
    inflateAmount: 0,
    borderWidth: 0,
    minBarLength: 1,
    order: 11,
  });
  datasets.push({
    type: "bar",
    data: CANDLES_OHLC.map((c, i) => ({ x: i, y: [Math.min(c[0], c[3]), Math.max(c[0], c[3])] })),
    backgroundColor: candleColor,
    barThickness: 5,
    grouped: false,
    inflateAmount: 0,
    borderWidth: 0,
    minBarLength: 1,
    order: 10,
  });

  datasets.push({ type: "line", data: pts(TENKAN), borderColor: "#ff0000", borderWidth: 1, pointRadius: 0, order: 6, fill: false });
  datasets.push({ type: "line", data: pts(KIJUN), borderColor: "#0000ff", borderWidth: 3, pointRadius: 0, order: 5, fill: false, borderJoinStyle: "round" });
  datasets.push({ type: "line", data: pts(TREND_SOLID), borderColor: "#000", borderWidth: 1, pointRadius: 0, order: 4, fill: false });
  datasets.push({ type: "line", data: pts(TREND_DOTTED), borderColor: "#000", borderWidth: 1, borderDash: [2, 3], pointRadius: 0, order: 4, fill: false });
  datasets.push({
    type: "line",
    showLine: false,
    data: [{ x: ORDER_IDX, y: STOP_PRICE }],
    pointRadius: 2.5,
    pointBackgroundColor: "#fff",
    pointBorderColor: "#ff5050",
    pointBorderWidth: 1,
    order: 3,
  });
  datasets.push({
    type: "line",
    showLine: false,
    data: [{ x: ORDER_IDX, y: LIMIT_PRICE }],
    pointRadius: 2.5,
    pointBackgroundColor: "#fff",
    pointBorderColor: "#c8a0dc",
    pointBorderWidth: 1,
    order: 3,
  });
  datasets.push({
    type: "line",
    showLine: false,
    data: pts(SELL_SIGNAL),
    pointStyle: makeArrow(),
    pointRadius: 8,
    order: 2,
  });

  const yTicks: number[] = [];
  for (let k = Math.ceil(PRICE_MIN * 10); k <= Math.floor(PRICE_MAX * 10); k++) yTicks.push(k / 10);
  PRICE_TAGS.forEach((t) => yTicks.push(t));
  yTicks.sort((a, b) => a - b);

  const isTag = (v: number) => PRICE_TAGS.some((t) => near(t, v));
  const isLabel = (v: number) => PRICE_LABELS.some((t) => near(t, v));

  return {
    type: "line",
    data: { datasets },
    options: {
      animation: false,
      responsive: false,
      maintainAspectRatio: false,
      devicePixelRatio: 1,
      events: [],
      layout: { padding: 0, autoPadding: false },
      plugins: { legend: { display: false }, tooltip: { enabled: false } },
      scales: {
        x: {
          type: "linear",
          position: "bottom",
          min: X_MIN,
          max: X_MAX,
          bounds: "data",
          offset: false,
          afterBuildTicks: (s: any) => {
            s.ticks = BOTTOM_TICKS.map((v) => ({ value: v }));
          },
          afterFit: (s: any) => {
            s.height = 42;
            s.paddingLeft = 0;
            s.paddingRight = 0;
          },
          ticks: {
            autoSkip: false,
            maxRotation: 0,
            minRotation: 0,
            padding: 23,
            color: AXIS_TEXT,
            font: { family: FONT, size: 11.5 },
            callback: (_v: any, i: number) => BOTTOM_LABELS[i] ?? "",
          },
          grid: {
            drawTicks: false,
            color: (ctx: any) => (ctx.tick && MAJOR_X.includes(ctx.tick.value) ? GRID_V : TRANSPARENT),
          },
          border: { display: false },
        },
        x2: {
          type: "linear",
          position: "top",
          axis: "x",
          min: X_MIN,
          max: X_MAX,
          bounds: "data",
          offset: false,
          afterBuildTicks: (s: any) => {
            s.ticks = TOP_TICKS.map((v) => ({ value: v }));
          },
          afterFit: (s: any) => {
            s.height = 30;
            s.paddingLeft = 0;
            s.paddingRight = 0;
          },
          ticks: {
            autoSkip: false,
            maxRotation: 0,
            minRotation: 0,
            padding: 13,
            color: AXIS_TEXT,
            font: { family: FONT, size: 11.5 },
            callback: (_v: any, i: number) => TOP_LABELS[i] ?? "",
          },
          grid: { display: false, drawTicks: false },
          border: { display: false },
        },
        y: {
          type: "linear",
          position: "right",
          min: PRICE_MIN,
          max: PRICE_MAX,
          bounds: "data",
          afterBuildTicks: (s: any) => {
            s.ticks = yTicks.map((v) => ({ value: v }));
          },
          afterFit: fixY,
          ticks: {
            autoSkip: false,
            padding: 18,
            font: { family: FONT, size: 11 },
            color: (ctx: any) => {
              const v = ctx.tick ? ctx.tick.value : 0;
              if (near(v, RED_LEVEL)) return "#000";
              if (isTag(v)) return "#1a1ad0";
              return "#3a3a70";
            },
            showLabelBackdrop: true,
            backdropPadding: { left: 2, right: 3, top: 2, bottom: 1 },
            backdropColor: (ctx: any) => {
              const v = ctx.tick ? ctx.tick.value : 0;
              if (near(v, RED_LEVEL)) return "#ff0000";
              if (isTag(v)) return "#ffcc00";
              return TRANSPARENT;
            },
            callback: (v: any) => {
              const n = Number(v);
              if (isTag(n)) return n.toFixed(3).replace(".", ",");
              if (isLabel(n)) return n.toFixed(2).replace(".", ",");
              return "";
            },
          },
          grid: {
            drawTicks: false,
            color: (ctx: any) => (ctx.tick && isLabel(ctx.tick.value) ? "rgba(222,228,236,0.5)" : TRANSPARENT),
          },
          border: { display: false },
        },
      },
    },
    plugins: [mainDecor],
  };
}

function panelDecor(watermark: boolean) {
  return {
    id: "panelDecor",
    beforeDraw(chart: any) {
      const { ctx } = chart;
      ctx.save();
      ctx.fillStyle = "#fff";
      ctx.fillRect(0, 0, chart.width, chart.height);
      ctx.restore();
    },
    afterDraw(chart: any) {
      const { ctx, chartArea: a, scales } = chart;
      const y = scales.y;
      ctx.save();
      ctx.strokeStyle = "#c3ccd6";
      ctx.lineWidth = 2;
      ctx.strokeRect(1, 1, PLOT_RIGHT - 1, chart.height - 2);
      ctx.strokeStyle = "#333";
      ctx.lineWidth = 1;
      ctx.beginPath();
      ctx.moveTo(RULER_X, a.top);
      ctx.lineTo(RULER_X, a.bottom);
      y.ticks.forEach((t: any) => {
        const py = Math.round(y.getPixelForValue(t.value)) + 0.5;
        ctx.moveTo(1300, py);
        ctx.lineTo(RULER_X, py);
      });
      ctx.stroke();
      if (watermark) {
        ctx.fillStyle = "#3c3c64";
        ctx.font = `12px "${FONT}"`;
        ctx.textAlign = "right";
        ctx.textBaseline = "middle";
        ctx.fillText("FXCM Marketscope \u00a9 2017", PLOT_RIGHT - 1, 84);
      }
      ctx.restore();
    },
  };
}

function panelOptions(yMin: number, yMax: number, padTop: number, padBottom: number, yTicks: number[], yTicksOpts: any, gridColor: any, gridWidth: number) {
  return {
    animation: false,
    responsive: false,
    maintainAspectRatio: false,
    devicePixelRatio: 1,
    events: [],
    layout: { padding: { top: padTop, bottom: padBottom, left: 0, right: 0 }, autoPadding: false },
    plugins: { legend: { display: false }, tooltip: { enabled: false } },
    scales: {
      x: xScaleHidden(),
      y: {
        type: "linear",
        position: "right",
        min: yMin,
        max: yMax,
        bounds: "data",
        afterBuildTicks: (s: any) => {
          s.ticks = yTicks.map((v) => ({ value: v }));
        },
        afterFit: fixY,
        ticks: { autoSkip: false, padding: 18, font: { family: FONT, size: 11 }, ...yTicksOpts },
        grid: { drawTicks: false, color: gridColor, lineWidth: gridWidth },
        border: { display: false },
      },
    },
  };
}

function buildStoch(): any {
  return {
    type: "line",
    data: {
      datasets: [
        { data: pts(STOCH_D), borderColor: "#e8440c", borderWidth: 1, pointRadius: 0, fill: false, order: 2 },
        { data: pts(STOCH_K), borderColor: "#18b4b8", borderWidth: 1, pointRadius: 0, fill: false, order: 1 },
      ],
    },
    options: panelOptions(
      -5.6,
      105.6,
      2,
      2,
      STOCH_TICKS,
      {
        color: "#000",
        showLabelBackdrop: true,
        backdropPadding: { left: 1, right: 1, top: 0, bottom: 0 },
        backdropColor: (ctx: any) => {
          const v = ctx.tick ? ctx.tick.value : -1;
          if (v === 0 || v === 100) return "#a0a0a0";
          if (v === 20 || v === 80) return "#ff6464";
          return TRANSPARENT;
        },
        callback: (v: any) => (STOCH_LABELS.includes(Number(v)) ? String(v) : ""),
      },
      (ctx: any) => {
        const v = ctx.tick ? ctx.tick.value : -1;
        if (v === 0 || v === 100) return "#000";
        if (v === 20 || v === 80) return "#e25050";
        return TRANSPARENT;
      },
      1.2
    ),
    plugins: [panelDecor(false)],
  };
}

function buildVolume(): any {
  return {
    type: "line",
    data: {
      datasets: [
        {
          type: "bar",
          data: VOLUME.map((v, i) => ({ x: i, y: v })),
          backgroundColor: UP,
          barThickness: 4,
          grouped: false,
          inflateAmount: 0,
          borderWidth: 0,
        },
      ],
    },
    options: panelOptions(
      0,
      117,
      2,
      4,
      VOLUME_TICKS,
      { color: "#3a3a70", callback: (v: any) => (Number(v) === 0 ? "0" : "") },
      (ctx: any) => (ctx.tick && ctx.tick.value === 0 ? UP : TRANSPARENT),
      1.5
    ),
    plugins: [panelDecor(false)],
  };
}

function buildFlow(): any {
  return {
    type: "line",
    data: {
      datasets: [
        {
          type: "bar",
          data: FLOW_UP.map((v, i) => ({ x: i, y: v })),
          backgroundColor: UP,
          barThickness: 4,
          grouped: false,
          inflateAmount: 0,
          borderWidth: 0,
        },
        {
          type: "bar",
          data: FLOW_DOWN.map((v, i) => ({ x: i, y: -v })),
          backgroundColor: DOWN,
          barThickness: 4,
          grouped: false,
          inflateAmount: 0,
          borderWidth: 0,
        },
      ],
    },
    options: panelOptions(
      -153,
      114,
      3,
      2,
      FLOW_TICKS,
      { color: "#3a3a70", callback: (v: any) => (Number(v) === 0 ? "0" : "") },
      (ctx: any) => (ctx.tick && ctx.tick.value === 0 ? "#dd0000" : TRANSPARENT),
      1.5
    ),
    plugins: [panelDecor(true)],
  };
}

export default function App() {
  const mainRef = useRef<HTMLCanvasElement | null>(null);
  const stochRef = useRef<HTMLCanvasElement | null>(null);
  const volRef = useRef<HTMLCanvasElement | null>(null);
  const flowRef = useRef<HTMLCanvasElement | null>(null);

  useEffect(() => {
    document.body.style.margin = "0";
    Chart.defaults.font.family = FONT;
    const charts = [
      new Chart(mainRef.current as HTMLCanvasElement, buildMain()),
      new Chart(stochRef.current as HTMLCanvasElement, buildStoch()),
      new Chart(volRef.current as HTMLCanvasElement, buildVolume()),
      new Chart(flowRef.current as HTMLCanvasElement, buildFlow()),
    ];
    return () => charts.forEach((c) => c.destroy());
  }, []);

  const cs = (top: number, h: number): React.CSSProperties => ({
    position: "absolute",
    left: 0,
    top,
    width: 1365,
    height: h,
    display: "block",
  });

  return (
    <div style={{ position: "relative", width: 1365, height: 644, background: "#fff", overflow: "hidden" }}>
      <canvas ref={mainRef} width={1365} height={432} style={cs(0, 432)} />
      <canvas ref={stochRef} width={1365} height={73} style={cs(432, 73)} />
      <canvas ref={volRef} width={1365} height={45} style={cs(505, 45)} />
      <canvas ref={flowRef} width={1365} height={94} style={cs(550, 94)} />
    </div>
  );
}
